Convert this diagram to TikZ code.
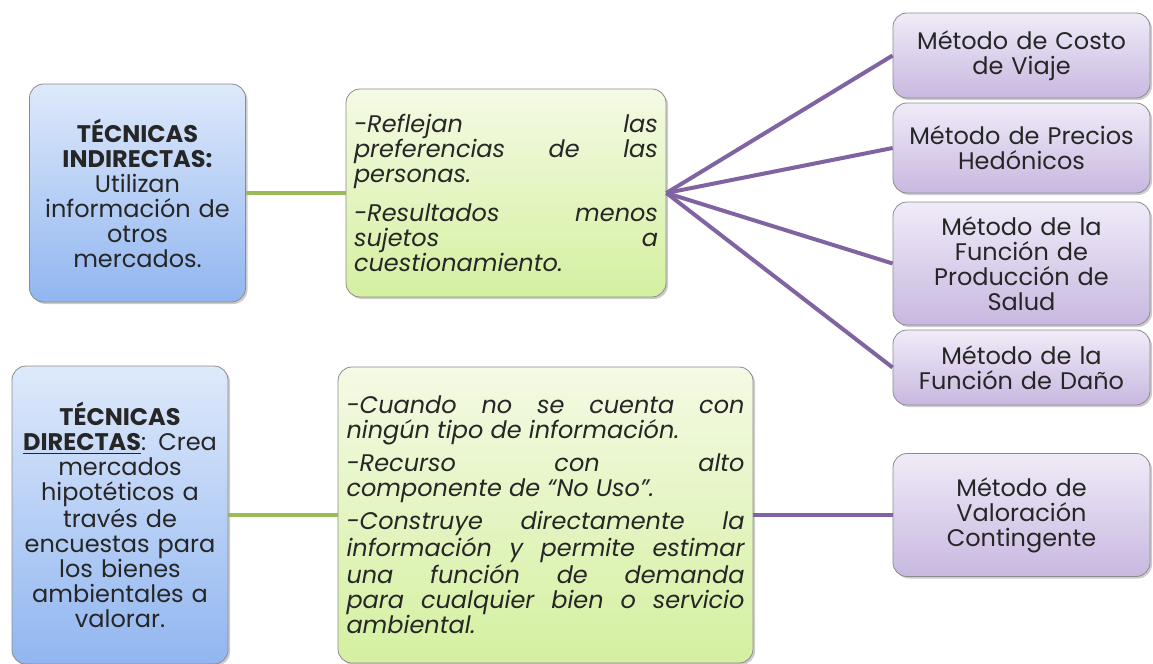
\documentclass[tikz,border=0pt]{standalone}
\usepackage{fontspec}
\setmainfont{Poppins}
\usetikzlibrary{positioning, shadows}
\definecolor{bluetop}{RGB}{222,233,251}
\definecolor{bluebottom}{RGB}{145,182,240}
\definecolor{greentop}{RGB}{244,250,228}
\definecolor{greenbottom}{RGB}{212,240,160}
\definecolor{purpletop}{RGB}{240,235,248}
\definecolor{purplebottom}{RGB}{200,184,224}
\definecolor{olivegreen}{RGB}{155,187,89}
\definecolor{officepurple}{RGB}{128,100,162}
\definecolor{boxborder}{RGB}{140,140,140}
\tikzstyle{tecnica} = [rectangle, rounded corners=7pt, draw=boxborder, top color=bluetop, bottom color=bluebottom, align=center, minimum width=108pt, text width=104pt, inner xsep=2pt, drop shadow={shadow xshift=1pt, shadow yshift=-1pt, opacity=0.4}]
\tikzstyle{rasgo} = [rectangle, rounded corners=7pt, draw=boxborder, top color=greentop, bottom color=greenbottom, align=justify, font=\fontsize{12}{12.5}\selectfont\itshape, drop shadow={shadow xshift=1pt, shadow yshift=-1pt, opacity=0.4}]
\tikzstyle{metodo} = [rectangle, rounded corners=7pt, draw=boxborder, top color=purpletop, bottom color=purplebottom, align=center, minimum width=128.5pt, text width=124pt, inner xsep=2pt, drop shadow={shadow xshift=1pt, shadow yshift=-1pt, opacity=0.4}]
\tikzstyle{ramaverde} = [line width=2pt, draw=olivegreen]
\tikzstyle{ramamorada} = [line width=2pt, draw=officepurple]

\begin{document}
\begin{tikzpicture}[x=0.5pt, y=-0.5pt, every node/.style={text=black!85, font=\fontsize{12}{12.5}\selectfont}]
\useasboundingbox (0,0) rectangle (1153,664);

% Tecnicas indirectas
\node (indirectas) [tecnica, minimum height=109pt] at (137.5,193) {\textbf{TÉCNICAS}\\\textbf{INDIRECTAS:}\\Utilizan\\información de\\otros\\mercados.\\[3pt]};
\node (rasgosind) [rasgo, minimum width=160pt, text width=152pt, inner xsep=4pt, minimum height=104pt] at (506,193) {-Reflejan las\linebreak preferencias de las\linebreak personas.\\[7pt]-Resultados menos\linebreak sujetos a\linebreak cuestionamiento.};

% Metodos indirectos
\node (viaje) [metodo, minimum height=42.5pt] at (1021.5,55.5) {Método de Costo\\de Viaje};
\node (hedonicos) [metodo, minimum height=45pt] at (1021.5,148) {Método de Precios\\Hedónicos};
\node (salud) [metodo, minimum height=61.5pt] at (1021.5,263.5) {Método de la\\Función de\\Producción de\\Salud};
\node (dano) [metodo, minimum height=37.5pt] at (1021.5,367.5) {Método de la\\Función de Daño};

% Tecnicas directas
\node (directas) [tecnica, minimum height=149pt] at (120,515) {\textbf{TÉCNICAS}\\\textbf{\underline{DIRECTAS}}: Crea\\mercados\\hipotéticos a\\través de\\encuestas para\\los bienes\\ambientales a\\valorar.};
\node (rasgosdir) [rasgo, minimum width=207.5pt, text width=199pt, inner xsep=4pt, minimum height=148pt] at (545.5,515) {-Cuando no se cuenta con\linebreak ningún tipo de información.\\[4pt]-Recurso con alto\linebreak componente de ``No Uso''.\\[4pt]-Construye directamente la\linebreak información y permite estimar\linebreak una función de demanda\linebreak para cualquier bien o servicio\linebreak ambiental.};
\node (contingente) [metodo, minimum height=61.5pt] at (1021.5,515) {Método de\\Valoración\\Contingente};

% Ramas
\draw [ramaverde] (indirectas) -- (rasgosind);
\draw [ramamorada] (rasgosind.east) -- (viaje.west);
\draw [ramamorada] (rasgosind.east) -- (hedonicos.west);
\draw [ramamorada] (rasgosind.east) -- (salud.west);
\draw [ramamorada] (rasgosind.east) -- (dano.west);
\draw [ramaverde] (directas) -- (rasgosdir);
\draw [ramamorada] (rasgosdir) -- (contingente);

\end{tikzpicture}
\end{document}
